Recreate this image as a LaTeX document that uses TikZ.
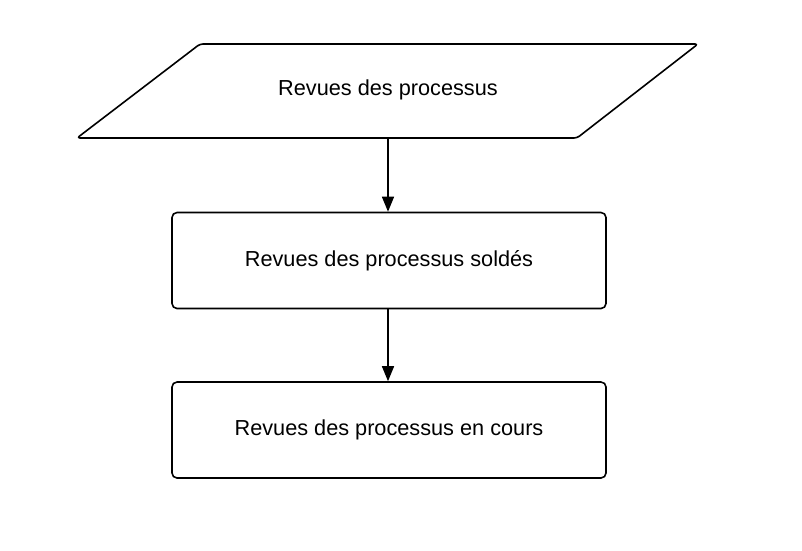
\documentclass[tikz,border=0pt]{standalone}
\usepackage{fontspec}
\setmainfont{Liberation Sans}
\usetikzlibrary{arrows.meta}
\begin{document}
\begin{tikzpicture}[x=1pt,y=-1pt,
  shapeline/.style={draw=black,line width=1.6pt,line join=round},
  procbox/.style={shapeline,rounded corners=5pt,minimum width=434pt,minimum height=96pt,inner sep=0pt,fill=white},
  lbl/.style={font=\fontsize{21.7}{26}\selectfont},
  conn/.style={line width=1.4pt,-{Triangle[length=15pt,width=12pt]}}]
\useasboundingbox (0,0) rectangle (802,550);
\fill[white] (0,0) rectangle (802,550);
% parallelogram
\draw[shapeline,rounded corners=3pt] (77,138) -- (200,44) -- (698,44) -- (577,138) -- cycle;
\node[lbl,minimum height=96pt,inner sep=0pt] (p) at (388,90) {Revues des processus};
\node[procbox,lbl] (b2) at (389,260.5) {\raisebox{1.5pt}{Revues des processus soldés}};
\node[procbox,lbl] (b3) at (389,430) {\raisebox{1.5pt}{Revues des processus en cours}};
\draw[conn] (p.south) -- (b2.north -| p.south);
\draw[conn] (b2.south -| p.south) -- (b3.north -| p.south);
\end{tikzpicture}
\end{document}
